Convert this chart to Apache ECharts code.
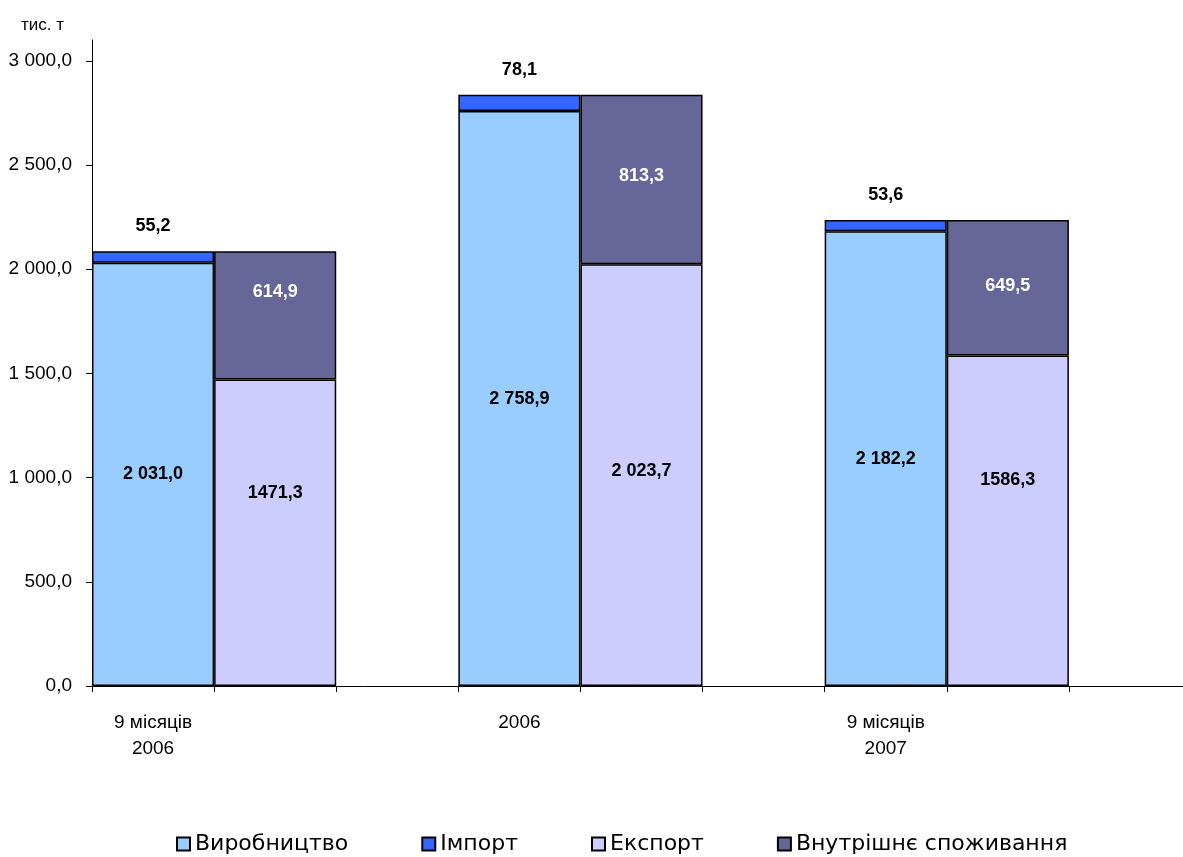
<!DOCTYPE html>
<html>
<head>
<meta charset="utf-8">
<script src="https://cdn.jsdelivr.net/npm/echarts@6/dist/echarts.min.js"></script>
<style>
  html, body { margin: 0; padding: 0; background: #fff; }
  #chart { width: 1183px; height: 857px; }
</style>
</head>
<body>
<div id="chart"></div>
<script>
// Periods on the category axis; each period takes three slots:
// production+import bar, export+domestic bar, empty spacer.
const periods = ['9 місяців\n2006', '2006', '9 місяців\n2007'];

// Balance components, thousand tonnes
const production = [2031.0, 2758.9, 2182.2];
const imports    = [55.2, 78.1, 53.6];
const exports    = [1471.3, 2023.7, 1586.3];
const domestic   = [614.9, 813.3, 649.5];

// Export labels as printed
const exportLabelText = ['1471,3', '2 023,7', '1586,3'];

const yTicks = [0, 500, 1000, 1500, 2000, 2500, 3000];
const seriesNames = ['Виробництво', 'Імпорт', 'Експорт', 'Внутрішнє споживання'];

const narrow = "'Liberation Sans Narrow', 'Arial Narrow', 'Liberation Sans', Arial, sans-serif";

// number -> "2 031,0"
function fmt(v) {
  const parts = v.toFixed(1).split('.');
  const intPart = parts[0].replace(/\B(?=(\d{3})+(?!\d))/g, ' ');
  return intPart + ',' + parts[1];
}

// Spread the three periods across nine slots
const categories = [];
periods.forEach(p => { categories.push(p, '', ''); });

function slot(values, offset, labelFor) {
  const out = new Array(categories.length).fill('-');
  values.forEach((v, i) => {
    out[i * 3 + offset] = labelFor ? { value: v, label: labelFor(i) } : v;
  });
  return out;
}

// small vertical nudges for a few in-bar labels
const exportNudge = [-40, -4, -41];
const domesticNudge = [-23, -4, -2];

const border = { borderColor: '#000', borderWidth: 1.5 };
const labelFont = { fontFamily: narrow, fontWeight: 'bold', fontSize: 18 };

const chart = echarts.init(document.getElementById('chart'), null, { renderer: 'canvas' });

chart.setOption({
  animation: false,
  backgroundColor: '#fff',
  title: {
    text: 'тис. т',
    left: 16,
    top: 12,
    textStyle: { fontFamily: narrow, fontSize: 17, fontWeight: 'normal', color: '#000' }
  },
  grid: {
    left: 92,
    right: -8,
    top: 40,
    bottom: 171,
    containLabel: false,
    outerBoundsMode: 'none'
  },
  legend: {
    top: 833,
    left: 176,
    padding: 0,
    itemWidth: 13,
    itemHeight: 13,
    itemGap: 73,
    icon: 'rect',
    data: seriesNames,
    textStyle: { fontFamily: "'DejaVu Sans', Verdana, sans-serif", fontSize: 22, color: '#000' }
  },
  xAxis: {
    type: 'category',
    data: categories,
    boundaryGap: true,
    axisLine: { lineStyle: { color: '#000', width: 1 } },
    axisTick: { show: true, length: 6, lineStyle: { color: '#000' } },
    axisLabel: {
      interval: 0,
      margin: 24,
      color: '#000',
      fontFamily: narrow,
      fontSize: 19,
      lineHeight: 26
    },
    splitLine: { show: false }
  },
  yAxis: {
    type: 'value',
    min: 0,
    max: 3100,
    interval: 500,
    axisLine: { show: true, lineStyle: { color: '#000', width: 1 } },
    axisTick: { show: true, length: 6, lineStyle: { color: '#000' }, customValues: yTicks },
    axisLabel: {
      customValues: yTicks,
      margin: 20,
      color: '#000',
      fontFamily: narrow,
      fontSize: 19,
      formatter: v => fmt(v)
    },
    splitLine: { show: false }
  },
  series: [
    {
      name: seriesNames[0],
      type: 'bar',
      stack: 'balance',
      barWidth: '100%',
      barCategoryGap: 0,
      itemStyle: Object.assign({ color: '#99CCFF' }, border),
      label: Object.assign({ show: true, position: 'inside', color: '#000', formatter: p => fmt(p.value) }, labelFont),
      data: slot(production, 0)
    },
    {
      name: seriesNames[1],
      type: 'bar',
      stack: 'balance',
      barWidth: '100%',
      itemStyle: Object.assign({ color: '#3366FF' }, border),
      label: Object.assign({ show: true, position: 'top', distance: 16, color: '#000', formatter: p => fmt(p.value) }, labelFont),
      data: slot(imports, 0)
    },
    {
      name: seriesNames[2],
      type: 'bar',
      stack: 'balance',
      barWidth: '100%',
      itemStyle: Object.assign({ color: '#CCCCFF' }, border),
      label: Object.assign({ show: true, position: 'inside', color: '#000' }, labelFont),
      data: slot(exports, 1, i => ({ formatter: exportLabelText[i], offset: [0, exportNudge[i]] }))
    },
    {
      name: seriesNames[3],
      type: 'bar',
      stack: 'balance',
      barWidth: '100%',
      itemStyle: Object.assign({ color: '#666699' }, border),
      label: Object.assign({ show: true, position: 'inside', color: '#fff', formatter: p => fmt(p.value) }, labelFont),
      data: slot(domestic, 1, i => ({ offset: [0, domesticNudge[i]] }))
    }
  ]
});
</script>
</body>
</html>
